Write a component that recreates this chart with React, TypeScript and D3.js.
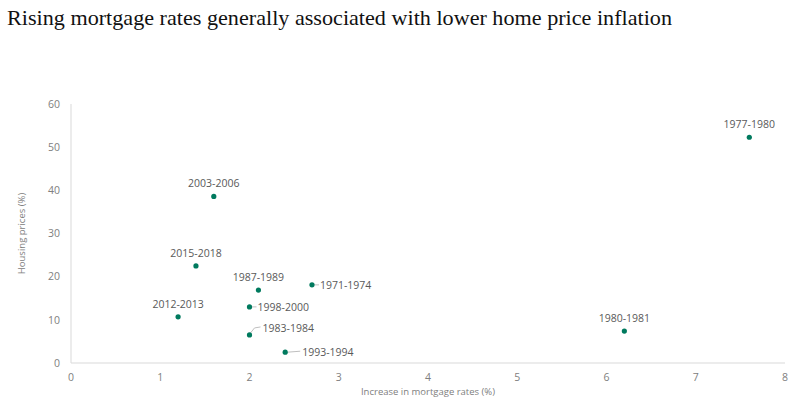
import React, { useEffect, useRef } from 'react';
import * as d3 from 'd3';

const periods = ['1977-1980', '2003-2006', '2015-2018', '1987-1989', '1971-1974', '1998-2000', '2012-2013', '1983-1984', '1993-1994', '1980-1981'];
const mortgageRise = [7.6, 1.6, 1.4, 2.1, 2.7, 2.0, 1.2, 2.0, 2.4, 6.2];
const housingPrices = [52.3, 38.6, 22.5, 16.9, 18.1, 13.0, 10.7, 6.5, 2.5, 7.4];
const xTicks = [0, 1, 2, 3, 4, 5, 6, 7, 8];
const yTicks = [0, 10, 20, 30, 40, 50, 60];

// label placement: 'top' sits above the dot, 'right' sits beside it, 'leader' gets a small connector line
const labelPlacement: Record<string, string> = {
  '1971-1974': 'right',
  '1998-2000': 'right',
  '1983-1984': 'leaderUp',
  '1993-1994': 'leader',
};

const App: React.FC = () => {
  const svgRef = useRef<SVGSVGElement>(null);

  useEffect(() => {
    if (!svgRef.current) return;
    const svg = d3.select(svgRef.current);
    svg.selectAll('*').remove();

    const left = 71, right = 785, top = 104, bottom = 363;
    const font = '"Open Sans", "Noto Sans", sans-serif';
    const grey = '#808080';

    svg.append('text')
      .attr('x', 7)
      .attr('y', 25)
      .attr('font-family', '"Liberation Serif", serif')
      .attr('font-size', 21)
      .attr('fill', '#111')
      .attr('textLength', 665)
      .attr('lengthAdjust', 'spacingAndGlyphs')
      .text('Rising mortgage rates generally associated with lower home price inflation');

    const x = d3.scaleLinear().domain([0, 8]).range([left, right]);
    const y = d3.scaleLinear().domain([0, 60]).range([bottom, top]);

    // axes lines
    svg.append('line')
      .attr('x1', left).attr('x2', right).attr('y1', bottom).attr('y2', bottom)
      .attr('stroke', '#d9d9d9').attr('stroke-width', 1);
    svg.append('line')
      .attr('x1', left).attr('x2', left).attr('y1', top).attr('y2', bottom)
      .attr('stroke', '#d9d9d9').attr('stroke-width', 1);

    svg.selectAll('.ytick')
      .data(yTicks)
      .enter().append('text')
      .attr('x', left - 11)
      .attr('y', d => y(d))
      .attr('dy', '0.35em')
      .attr('text-anchor', 'end')
      .attr('font-family', font)
      .attr('font-size', 10.5)
      .attr('fill', grey)
      .text(d => d);

    svg.selectAll('.xtick')
      .data(xTicks)
      .enter().append('text')
      .attr('x', d => x(d))
      .attr('y', bottom + 18)
      .attr('text-anchor', 'middle')
      .attr('font-family', font)
      .attr('font-size', 10.5)
      .attr('fill', grey)
      .text(d => d);

    svg.append('text')
      .attr('x', (left + right) / 2)
      .attr('y', 395)
      .attr('text-anchor', 'middle')
      .attr('font-family', font)
      .attr('font-size', 9.5)
      .attr('fill', grey)
      .text('Increase in mortgage rates (%)');

    svg.append('text')
      .attr('transform', `translate(25,${(top + bottom) / 2}) rotate(-90)`)
      .attr('text-anchor', 'middle')
      .attr('font-family', font)
      .attr('font-size', 9.5)
      .attr('fill', grey)
      .text('Housing prices (%)');

    const points = periods.map((p, i) => ({ name: p, xv: mortgageRise[i], yv: housingPrices[i] }));

    points.forEach(d => {
      const cx = x(d.xv), cy = y(d.yv);
      const mode = labelPlacement[d.name] || 'top';
      const label = svg.append('text')
        .attr('font-family', font)
        .attr('font-size', 10.5)
        .attr('fill', '#595959')
        .text(d.name);
      if (mode === 'top') {
        label.attr('x', cx).attr('y', cy - 9).attr('text-anchor', 'middle');
      } else if (mode === 'right') {
        label.attr('x', cx + 8).attr('y', cy).attr('dy', '0.35em');
        svg.append('line')
          .attr('x1', cx + 2).attr('x2', cx + 7).attr('y1', cy).attr('y2', cy)
          .attr('stroke', '#bfbfbf');
      } else if (mode === 'leader') {
        label.attr('x', cx + 17).attr('y', cy).attr('dy', '0.35em');
        svg.append('line')
          .attr('x1', cx + 2).attr('x2', cx + 15).attr('y1', cy).attr('y2', cy - 1)
          .attr('stroke', '#bfbfbf');
      } else if (mode === 'leaderUp') {
        label.attr('x', cx + 13).attr('y', cy - 7).attr('dy', '0.35em');
        svg.append('path')
          .attr('d', `M${cx + 1},${cy - 2} L${cx + 5},${cy - 7} L${cx + 11},${cy - 8}`)
          .attr('fill', 'none')
          .attr('stroke', '#bfbfbf');
      }
    });

    svg.selectAll('.dot')
      .data(points)
      .enter().append('circle')
      .attr('cx', d => x(d.xv))
      .attr('cy', d => y(d.yv))
      .attr('r', 2.6)
      .attr('fill', '#007a5e');
  }, []);

  return (
    <svg ref={svgRef} width={795} height={401}
      style={{ position: 'absolute', left: 0, top: 0, background: '#fff' }} />
  );
};

export default App;
